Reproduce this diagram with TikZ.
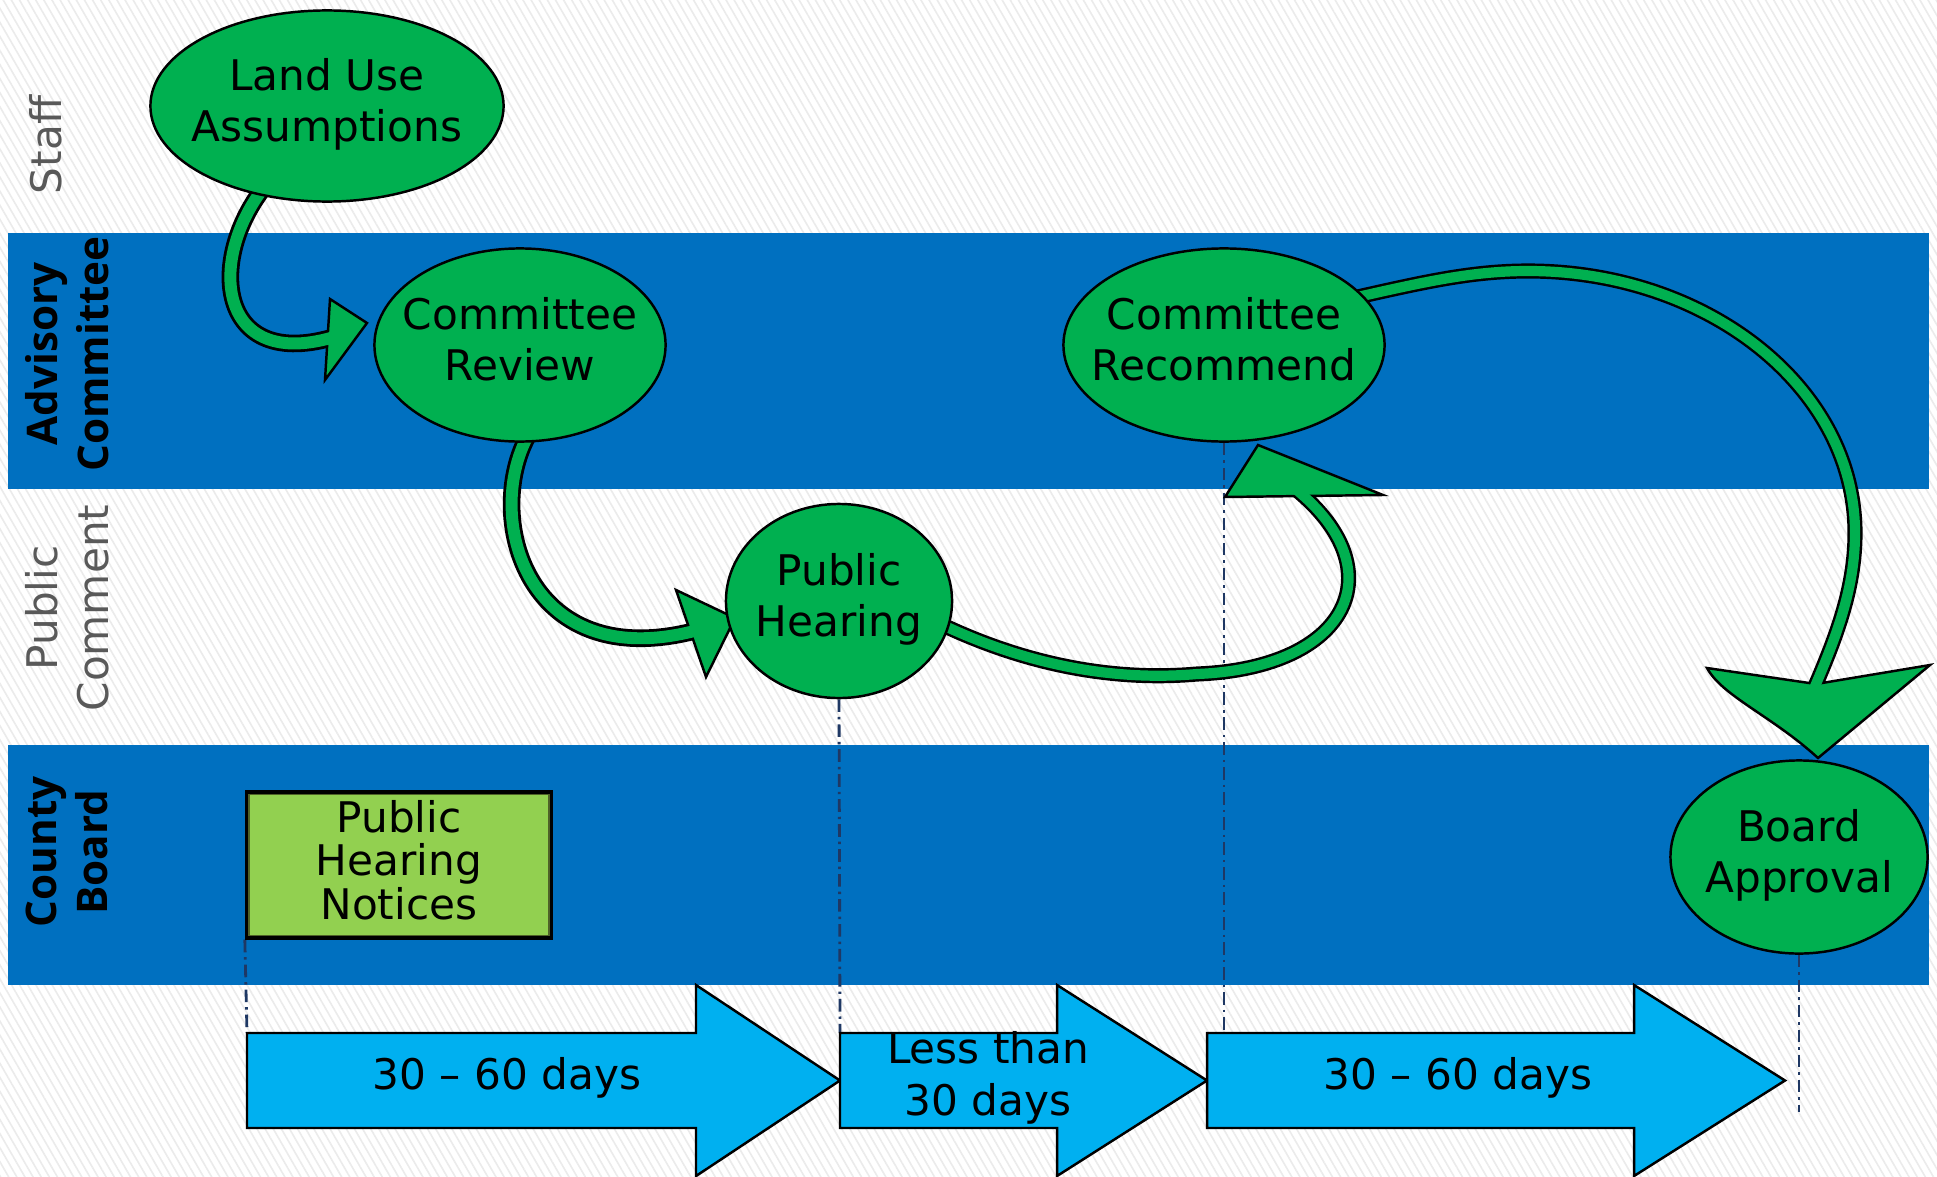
\documentclass[tikz,border=0pt]{standalone}
\usepackage{fontspec}
\setmainfont{DejaVu Sans}
\newfontfamily\lanefont{Open Sans}
\usetikzlibrary{shapes.geometric,patterns.meta}

\definecolor{laneblue}{HTML}{0070C0}
\definecolor{stepgreen}{HTML}{00B050}
\definecolor{noticegreen}{HTML}{92D050}
\definecolor{noticeedge}{HTML}{4F6228}
\definecolor{dayblue}{HTML}{00B0F0}
\definecolor{guide}{HTML}{1F3864}
\definecolor{lanegray}{HTML}{595959}

\pgfdeclarelayer{lanes}
\pgfdeclarelayer{flows}
\pgfsetlayers{lanes,flows,main}

\tikzset{
  lanetext/.style={rotate=90, align=center, text=lanegray, font=\fontsize{12pt}{14.5pt}\selectfont},
  lanebold/.style={rotate=90, align=center, font=\lanefont\bfseries\fontsize{12pt}{14.5pt}\selectfont},
  stepnode/.style={ellipse, draw=black, line width=0.7pt, fill=stepgreen, inner xsep=-0.6cm, inner ysep=-0.3cm,
    text depth=3.5pt, align=center, font=\fontsize{12pt}{14.6pt}\selectfont},
  dayarrow/.style={draw=black, line width=0.7pt, fill=dayblue, line join=miter},
  daytext/.style={align=center, font=\fontsize{12pt}{14.8pt}\selectfont},
  guideline/.style={guide, line width=0.8pt, dash pattern=on 3.6pt off 1.4pt on 0.7pt off 1.4pt},
  flowout/.style={black, line width=5pt, shorten >=-3pt},
  flowin/.style={stepgreen, line width=3.4pt, shorten >=-3pt},
  flowhead/.style={fill=stepgreen, draw=black, line width=0.7pt, line join=miter},
}

\begin{document}
\begin{tikzpicture}[x=0.01cm, y=-0.01cm]
\useasboundingbox (0,0) rectangle (1937,1176);

	% lanes
	\begin{pgfonlayer}{lanes}
		\fill[white] (0,0) rectangle (1937,1176);
		\fill[pattern={Lines[angle=-60,distance=2pt,line width=0.45pt]}, pattern color=gray!16] (0,0) rectangle (1937,1176);
		\fill[laneblue] (8,233) rectangle (1929,489);
		\fill[laneblue] (8,745) rectangle (1929,985);
	\end{pgfonlayer}

		\node[lanetext] (staff) at (46,145) {Staff};
		\node[lanebold] (advisory) at (67,354) {Advisory\\Committee};
		\node[lanetext] (public) at (67,608) {Public\\Comment};
		\node[lanebold] (county) at (67,852) {County\\Board};

	% steps
		\node[stepnode, minimum width=3.53cm, minimum height=1.91cm] (lua) at (327,106) {Land Use\\Assumptions};
		\node[stepnode, minimum width=2.91cm, minimum height=1.93cm] (rev) at (520,345) {Committee\\Review};
		\node[stepnode, minimum width=3.21cm, minimum height=1.93cm] (rec) at (1224,345) {Committee\\Recommend};
		\node[stepnode, minimum width=2.26cm, minimum height=1.94cm] (hear) at (839,601) {Public\\Hearing};
		\node[stepnode, minimum width=2.57cm, minimum height=1.93cm] (board) at (1799,857) {Board\\Approval};

		\node[draw=black, line width=0.9pt, fill=noticegreen, minimum width=3.05cm, minimum height=1.46cm, inner sep=0pt,
			text depth=3pt, align=center, font=\fontsize{12pt}{12.3pt}\selectfont] (notice) at (399,865) {Public\\Hearing\\Notices};
		\draw[noticeedge, line width=0.4pt] ([shift={(4,4)}]notice.north west) rectangle ([shift={(-4,-4)}]notice.south east);

	% time spans
		\draw[dayarrow] (247,1033) -- (696,1033) -- (696,985) -- (840,1080.5) -- (696,1176) -- (696,1128) -- (247,1128) -- cycle;
		\draw[dayarrow] (840,1033) -- (1057,1033) -- (1057,985) -- (1207,1080.5) -- (1057,1176) -- (1057,1128) -- (840,1128) -- cycle;
		\draw[dayarrow] (1207,1033) -- (1634,1033) -- (1634,985) -- (1785,1080.5) -- (1634,1176) -- (1634,1128) -- (1207,1128) -- cycle;
		\coordinate (span1) at (247,1033);
		\coordinate (span2) at (840,1033);
		\coordinate (bend) at (1799,1112);

		\node[daytext] (t1) at (507,1078) {30 – 60 days};
		\node[daytext] (t2) at (988,1078) {Less than\\30 days};
		\node[daytext] (t3) at (1458,1078) {30 – 60 days};

	\begin{pgfonlayer}{lanes}
		\draw[guideline] (notice.south west) -- (span1);
		\draw[guideline] (hear.south) -- (span2);
		\draw[guideline] (rec.south) -- (rec.south |- span1);
		\draw[guideline] (board.south) -- (bend);
	\end{pgfonlayer}

	% flow arrows
	\begin{pgfonlayer}{flows}
		\coordinate (a1) at (328,339);
		\coordinate (b1) at (691,632);
		\coordinate (c1) at (1304,496);
		\coordinate (d1) at (1816,684);

		\draw[flowout] ([shift={(6,-16)}]lua.235) .. controls (205,255) and (215,375) .. (a1);
		\draw[flowhead] (330,299) -- (367,323) -- (325,380) -- cycle;
		\draw[flowin] ([shift={(6,-16)}]lua.235) .. controls (205,255) and (215,375) .. (a1);

		\draw[flowout] ([shift={(5,-16)}]rev.275) .. controls (480,505) and (520,680) .. (b1);
		\draw[flowhead] (676,590) -- (735,618) -- (706,677) -- cycle;
		\draw[flowin] ([shift={(5,-16)}]rev.275) .. controls (480,505) and (520,680) .. (b1);

		\draw[flowout, line width=4.3pt] ([shift={(-12,-4)}]hear.347) .. controls (1040,672) and (1130,680) .. (1197,674)
			.. controls (1350,668) and (1395,570) .. (c1);
		\draw[flowhead] (1225,497) -- (1258,445) -- (1383,495) -- cycle;
		\draw[flowin, line width=2.9pt] ([shift={(-12,-4)}]hear.347) .. controls (1040,672) and (1130,680) .. (1197,674)
			.. controls (1350,668) and (1395,570) .. (c1);

		\draw[flowout, line width=4.3pt] ([shift={(-12,4)}]rec.20) .. controls (1420,283) and (1470,271) .. (1528,271)
			.. controls (1708,271) and (1855,388) .. (1855,533) .. controls (1855,590) and (1835,640) .. (d1);
		\draw[flowhead] (1707,668) -- (d1) -- (1930,665) -- (1818,758) .. controls (1772,716) and (1722,696) .. (1707,668) -- cycle;
		\draw[flowin, line width=2.9pt] ([shift={(-12,4)}]rec.20) .. controls (1420,283) and (1470,271) .. (1528,271)
			.. controls (1708,271) and (1855,388) .. (1855,533) .. controls (1855,590) and (1835,640) .. (d1);
	\end{pgfonlayer}

\end{tikzpicture}
\end{document}
